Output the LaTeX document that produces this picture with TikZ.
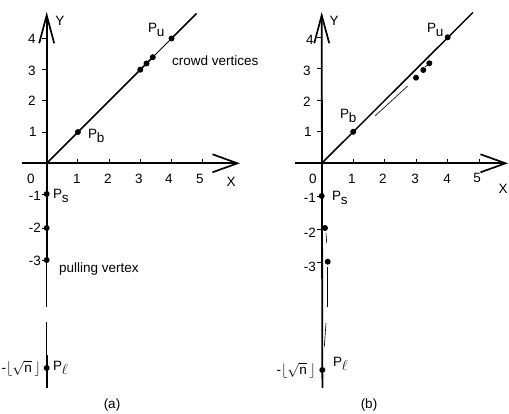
\documentclass[tikz,border=0pt]{standalone}
\usepackage{amsmath}
\usepackage{fontspec}
\setmainfont{Liberation Sans}
\usetikzlibrary{arrows.meta}
\newcommand\psub[1]{P\kern-0.3pt\raisebox{-4pt}{#1}}
\tikzset{
  axis/.style={line width=1.8pt},
  yarr/.style={-{Straight Barb[length=28pt,width=15pt,line width=1.7pt]}},
  xarr/.style={-{Straight Barb[length=25pt,width=18pt,line width=1.7pt]}},
  diag/.style={line width=1.5pt},
  thinl/.style={line width=0.6pt},
  tick/.style={line width=0.9pt},
  dot/.style={circle,fill=black,inner sep=0pt,minimum size=6pt},
  lab/.style={font=\fontsize{13.5}{15}\selectfont,inner sep=0pt},
}
\begin{document}
\begin{tikzpicture}[x=1pt,y=-1pt]
\useasboundingbox (0,0) rectangle (509,414);
% ================= panel (a) =================
\coordinate (aO) at (46.7,163.3);
\coordinate (aXs) at (21.7,163.3);
\coordinate (aXe) at (240,163.3);
\coordinate (aYe) at (46.7,12);
\coordinate (aYm) at (46.7,307);
\coordinate (aYl1) at (46.7,322);
\coordinate (aYl2) at (46.7,355);
\coordinate (aYl3) at (46.7,388);
\coordinate (aDe) at (196.5,13.5);
\draw[axis,xarr] (aXs) -- (aXe);
\foreach \i/\x in {1/77.9,2/109.1,3/140.3,4/171.5,5/202.7}
  \draw[tick] (\x,163.3) coordinate (axt\i) -- (\x,159);
\foreach \i/\y in {1/132.1,2/100.9,3/69.7,4/38.5,m1/194,m2/228,m3/260}
  \draw[tick] (42,\y) coordinate (ayt\i) -- (46.7,\y);
% dots
\node[dot] (a1) at (77.9,132.1) {};
\node[dot] (a3) at (140.3,69.7) {};
\node[dot] (a32) at (146.5,63.5) {};
\node[dot] (a34) at (152.8,57.2) {};
\node[dot] (a4) at (171.5,38.5) {};
\node[dot] (aPs) at (46.7,194) {};
\node[dot] (am2) at (46.7,228) {};
\node[dot] (am3) at (46.7,260) {};
\node[dot] (aPl) at (46.7,368) {};
\draw[axis,yarr] (am3.center) -- (aYe);
\draw[line width=1pt] (am3.center) -- (aYm);
\draw[thinl] (aYl1) -- (aYl2);
\draw[axis] (aYl2) -- (aYl3);
\draw[diag] (aO) -- (a34.center);
\draw[line width=0.8pt] (a34.center) -- (a4.center);
\draw[diag] (a4.center) -- (aDe);
% labels
\node[lab] (al4) at (32,39) {4};
\node[lab] (al3) at (32,71) {3};
\node[lab] (al2) at (32,101) {2};
\node[lab] (al1) at (33,132) {1};
\node[lab] (al0) at (31,179) {0};
\node[lab] (ax1) at (77,179) {1};
\node[lab] (ax2) at (108,179) {2};
\node[lab] (ax3) at (139,179) {3};
\node[lab] (ax4) at (169,179) {4};
\node[lab] (ax5) at (200,179) {5};
\node[lab] (aX) at (231,182) {X};
\node[lab] (aY) at (60,21) {Y};
\node[lab,anchor=east] (alm1) at (41,196) {-1};
\node[lab,anchor=east] (alm2) at (41,228) {-2};
\node[lab,anchor=east] (alm3) at (41,261) {-3};
\node[lab,anchor=west] (aPsl) at (53,196) {\psub{s}};
\node[lab,anchor=west] (aPbl) at (88,136) {\psub{b}};
\node[lab,anchor=west] (aPul) at (148,30) {\psub{u}};
\node[lab,anchor=west] (acrowd) at (172,61) {crowd vertices};
\node[lab,anchor=west] (apull) at (59,269) {pulling vertex};
\node[lab,anchor=east] (afl) at (41,368) {$\text{-}\lfloor\sqrt{\text{n}}\,\rfloor$};
\node[lab,anchor=west] (aPll) at (53,368) {P\kern-0.3pt\raisebox{-4pt}{$\ell$}};
\node[lab] (acap) at (112,405) {(a)};
% ================= panel (b) =================
\coordinate (bO) at (321.7,163.3);
\coordinate (bXs) at (295,163.3);
\coordinate (bXe) at (508,163.3);
\coordinate (bYe) at (321.7,12);
\coordinate (bYl) at (322.5,388);
\coordinate (bDe) at (472.9,12.5);
\draw[axis,xarr] (bXs) -- (bXe);
\foreach \i/\x in {1/353.2,2/384.7,3/416.2,4/447.7,5/479.2}
  \draw[tick] (\x,163.3) coordinate (bxt\i) -- (\x,159);
\foreach \i/\y in {1/131.8,2/100.3,3/68.8,4/37.3,m1/196,m2/229,m3/262}
  \draw[tick] (317,\y) coordinate (byt\i) -- (321.7,\y);
\node[dot] (b1) at (353.2,131.8) {};
\node[dot] (b4) at (447.7,37.3) {};
\node[dot] (bc1) at (416,77.7) {};
\node[dot] (bc2) at (423.3,70) {};
\node[dot] (bc3) at (429.3,63.3) {};
\node[dot] (bPs) at (321.7,196) {};
\node[dot] (bm2) at (325,228) {};
\node[dot] (bm3) at (327.7,261.7) {};
\node[dot] (bPl) at (322.3,370) {};
\draw[axis] (bPl.center) -- (bYl);
\draw[axis,yarr] (bPl.center) -- (bYe);
\draw[diag] (bO) -- (bDe);
\coordinate (bt1a) at (375,116);
\coordinate (bt1b) at (407.7,86);
\coordinate (bt2a) at (425,67);
\coordinate (bt2b) at (432,61.5);
\coordinate (bt3a) at (326,233);
\coordinate (bt3b) at (326.7,243);
\coordinate (bt4a) at (327.7,267);
\coordinate (bt4b) at (327.7,307);
\coordinate (bt5a) at (326,323);
\coordinate (bt5b) at (324.3,347);
\draw[thinl] (bt1a) -- (bt1b);
\draw[thinl] (bt2a) -- (bt2b);
\draw[thinl] (bt3a) -- (bt3b);
\draw[thinl] (bt4a) -- (bt4b);
\draw[thinl] (bt5a) -- (bt5b);
\node[lab] (bl4) at (310,40) {4};
\node[lab] (bl3) at (307,71) {3};
\node[lab] (bl2) at (307,102) {2};
\node[lab] (bl1) at (308,132) {1};
\node[lab] (bl0) at (313,179) {0};
\node[lab] (bx1) at (352,179) {1};
\node[lab] (bx2) at (383,179) {2};
\node[lab] (bx3) at (415,179) {3};
\node[lab] (bx4) at (447,179) {4};
\node[lab] (bx5) at (477,178) {5};
\node[lab] (bX) at (503,189) {X};
\node[lab] (bY) at (334,21) {Y};
\node[lab,anchor=east] (blm1) at (316,198) {-1};
\node[lab,anchor=east] (blm2) at (316,233) {-2};
\node[lab,anchor=east] (blm3) at (316,267) {-3};
\node[lab,anchor=west] (bPsl) at (332,198) {\psub{s}};
\node[lab,anchor=west] (bPbl) at (340,116) {\psub{b}};
\node[lab,anchor=west] (bPul) at (427,30) {\psub{u}};
\node[lab,anchor=east] (bfl) at (316,370) {$\text{-}\lfloor\sqrt{\text{n}}\,\rfloor$};
\node[lab,anchor=west] (bPll) at (333,364) {P\kern-0.3pt\raisebox{-4pt}{$\ell$}};
\node[lab] (bcap) at (369,405) {(b)};
\end{tikzpicture}
\end{document}
